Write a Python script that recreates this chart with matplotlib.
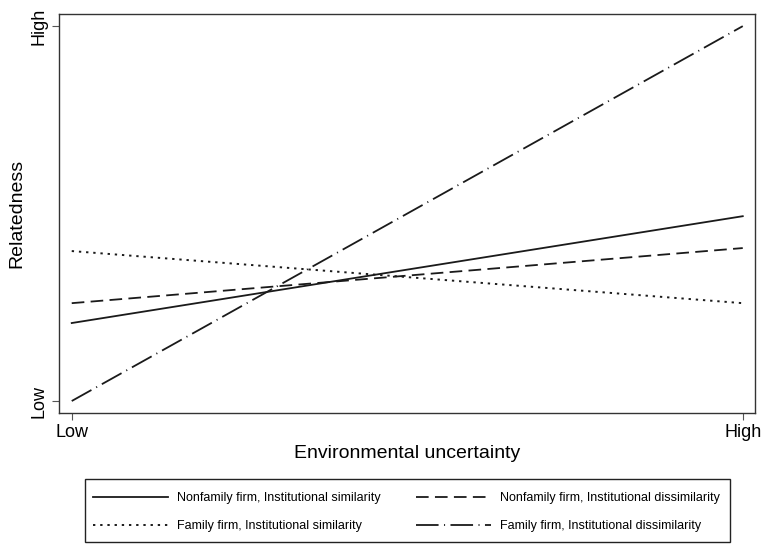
import numpy as np
import matplotlib.pyplot as plt
from matplotlib.patches import Rectangle

plt.rcParams['font.family'] = ['Liberation Sans', 'DejaVu Sans']

# x positions: low / high environmental uncertainty
x = [0, 1]
nonfam_sim = [0.208, 0.493]
nonfam_dis = [0.261, 0.408]
fam_sim = [0.400, 0.261]
fam_dis = [0.0, 1.0]

labels = ["Nonfamily firm, Institutional similarity",
          "Nonfamily firm, Institutional dissimilarity",
          "Family firm, Institutional similarity",
          "Family firm, Institutional dissimilarity"]

fig = plt.figure(figsize=(7.64, 5.44), dpi=100)
ax = fig.add_axes([0.0772, 0.2408, 0.9108, 0.7332])

c = '#1a1a1a'
l1, = ax.plot(x, nonfam_sim, color=c, lw=1.3, linestyle='-')
l2, = ax.plot(x, nonfam_dis, color=c, lw=1.3, linestyle=(0, (7, 3.5)))
l3, = ax.plot(x, fam_sim, color=c, lw=1.4, linestyle=(0, (1.2, 2.5)))
l4, = ax.plot(x, fam_dis, color=c, lw=1.3, linestyle=(0, (12.5, 3, 0.6, 3)))

ax.set_xlim(-0.019, 1.018)
ax.set_ylim(-0.032, 1.032)
ax.set_xticks([0, 1])
ax.set_xticklabels(['Low', 'High'], fontsize=13)
ax.set_yticks([0, 1])
ax.set_yticklabels(['Low', 'High'], fontsize=13, rotation=90, va='center')
ax.tick_params(direction='out', length=5, color='#555555', pad=3)
ax.set_xlabel('Environmental uncertainty', fontsize=14, labelpad=3)
ax.set_ylabel('Relatedness', fontsize=14, labelpad=4)
for s in ax.spines.values():
    s.set_color('#333333')
    s.set_linewidth(1.0)

# legend filled row-wise like the original (matplotlib fills by column)
leg = fig.legend([l1, l3, l2, l4], [labels[0], labels[2], labels[1], labels[3]],
                 ncol=2, loc='center left',
                 bbox_to_anchor=(93 / 764, 32 / 544),
                 frameon=False, handlelength=6.0,
                 handletextpad=0.72, columnspacing=2.8, labelspacing=1.3,
                 borderpad=0, borderaxespad=0, fontsize=9)
# legend box drawn separately so it can be wider on the right, as in the original
fig.patches.append(Rectangle((85 / 764, 2 / 544), 645 / 764, 63 / 544,
                             transform=fig.transFigure, fill=False,
                             edgecolor='#222222', linewidth=1.0))

fig.savefig('out.png', dpi=100)
